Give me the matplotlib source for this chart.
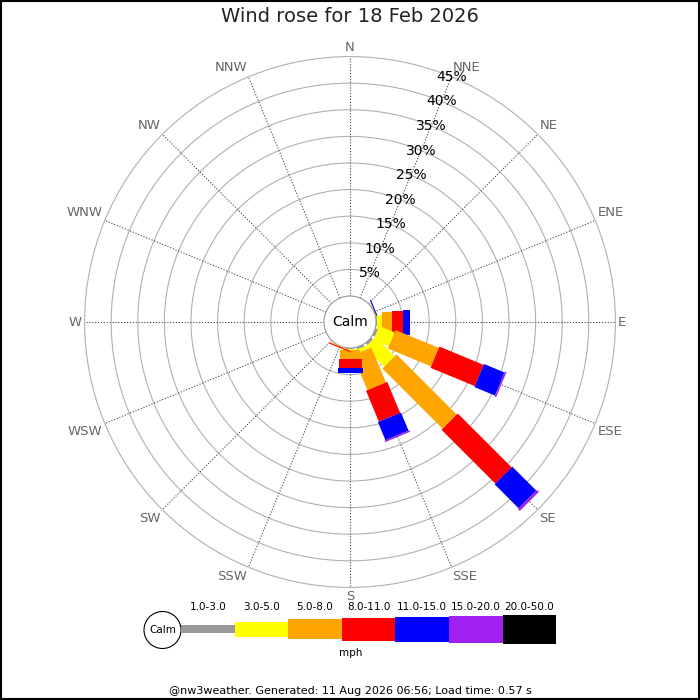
import numpy as np
import matplotlib
matplotlib.use("Agg")
from matplotlib import pyplot as plt
from matplotlib.patches import Polygon, Circle, Rectangle

# wind directions (16 points) and percent of time in each speed band
directions = ['N', 'NNE', 'NE', 'ENE', 'E', 'ESE', 'SE', 'SSE',
              'S', 'SSW', 'SW', 'WSW', 'W', 'WNW', 'NW', 'NNW']
speed_bands = ['1.0-3.0', '3.0-5.0', '5.0-8.0', '8.0-11.0',
               '11.0-15.0', '15.0-20.0', '20.0-50.0']
band_colors = ['#999999', '#ffff00', '#ffa500', '#ff0000',
               '#0000ff', '#a020f0', '#000000']

spd_1_3   = [0, 0, 0, 0,    0.1, 0.5, 0.5,  0.4, 0.1, 0,    0, 0, 0, 0, 0, 0]
spd_3_5   = [0, 0, 0, 0,    1.0, 3.1, 5.1,  0.7, 0.3, 0,    0, 0, 0, 0, 0, 0]
spd_5_8   = [0, 0, 0, 0.15, 1.9, 8.8, 16.0, 7.1, 1.7, 0.15, 0, 0, 0, 0, 0, 0]
spd_8_11  = [0, 0, 0, 0,    2.1, 9.0, 14.3, 6.3, 1.7, 0.2,  0, 0, 0, 0, 0, 0]
spd_11_15 = [0, 0, 0, 0.2,  1.3, 4.2, 6.4,  3.7, 0.9, 0,    0, 0, 0, 0, 0, 0]
spd_15_20 = [0, 0, 0, 0,    0,   0.3, 0.5,  0.3, 0,   0,    0, 0, 0, 0, 0, 0]
spd_20_50 = [0, 0, 0, 0,    0,   0,   0,    0,   0,   0,    0, 0, 0, 0, 0, 0]
bands = [spd_1_3, spd_3_5, spd_5_8, spd_8_11, spd_11_15, spd_15_20, spd_20_50]

ring_pcts = [5, 10, 15, 20, 25, 30, 35, 40, 45]

title = "Wind rose for 18 Feb 2026"
footer = "@nw3weather. Generated: 11 Aug 2026 06:56; Load time: 0.57 s"
unit = "mph"

# layout (pixels)
PX = 5.32          # pixels per percent
CX, CY = 350, 322  # centre of rose
R0 = 26 / PX       # calm circle radius in percent units
band_px = [8, 15, 20, 23, 25, 27, 29]

fig = plt.figure(figsize=(7, 7), dpi=100)
ax = fig.add_axes([0, 0, 1, 1])
ax.set_xlim(-CX / PX, (700 - CX) / PX)
ax.set_ylim(-(700 - CY) / PX, CY / PX)
ax.axis('off')

rmax = R0 + ring_pcts[-1]
for p in ring_pcts:
    ax.add_patch(Circle((0, 0), R0 + p, fill=False, ec='#b0b0b0', lw=0.8, zorder=1))

angles = np.deg2rad(np.arange(16) * 22.5)
for i, a in enumerate(angles):
    ux, uy = np.sin(a), np.cos(a)
    ax.plot([R0 * ux, rmax * ux], [R0 * uy, rmax * uy], color='#444444',
            lw=0.8, ls=(0, (1, 1.6)), zorder=2)
    rl = rmax + 0.5
    x, y = rl * ux, rl * uy
    ha = 'center' if abs(ux) < 1e-6 else ('left' if ux > 0 else 'right')
    va = 'center' if abs(uy) < 1e-6 else ('bottom' if uy > 0 else 'top')
    ax.text(x, y, directions[i], ha=ha, va=va, fontsize=9.5, color='#666666', zorder=5)

# petals
for i, a in enumerate(angles):
    ux, uy = np.sin(a), np.cos(a)
    vx, vy = np.cos(a), -np.sin(a)
    r = R0
    for b, vals in enumerate(bands):
        v = vals[i]
        if v <= 0:
            continue
        hw = band_px[b] / PX / 2
        r2 = r + v
        pts = [(r * ux + hw * vx, r * uy + hw * vy),
               (r2 * ux + hw * vx, r2 * uy + hw * vy),
               (r2 * ux - hw * vx, r2 * uy - hw * vy),
               (r * ux - hw * vx, r * uy - hw * vy)]
        ax.add_patch(Polygon(pts, closed=True, fc=band_colors[b], ec='none', zorder=3))
        r = r2

ax.add_patch(Circle((0, 0), R0, fc='white', ec='#999999', lw=0.8, zorder=2.5))
ax.text(0, 0, "Calm", ha='center', va='center', fontsize=10, zorder=6)

a = np.deg2rad(22.5)
for p in ring_pcts:
    ax.text((R0 + p) * np.sin(a), (R0 + p) * np.cos(a), f"{p}%",
            ha='center', va='center', fontsize=10, color='black', zorder=6)

# legend + texts in pixel coords
lax = fig.add_axes([0, 0, 1, 1])
lax.set_xlim(0, 700)
lax.set_ylim(700, 0)
lax.axis('off')

lax.text(350, 16, title, ha='center', va='center', fontsize=14, color='#222222')

lax.add_patch(Circle((162.5, 630), 18.5, fc='white', ec='black', lw=0.8))
lax.text(162.5, 630, "Calm", ha='center', va='center', fontsize=7.5)
seg_w = 53.6
x0 = 181
for b, lab in enumerate(speed_bands):
    h = band_px[b]
    lax.add_patch(Rectangle((x0 + b * seg_w, 629 - h / 2), seg_w, h,
                            fc=band_colors[b], ec='none'))
    lax.text(x0 + (b + 0.5) * seg_w, 607, lab, ha='center', va='center', fontsize=7.5)
lax.text(351, 653, unit, ha='center', va='center', fontsize=7.5)

lax.text(350, 691, footer, ha='center', va='center', fontsize=8)

lax.add_patch(Rectangle((0.5, 0.5), 698.5, 698.5, fill=False, ec='black', lw=1.5))

fig.savefig("out.png", dpi=100)
